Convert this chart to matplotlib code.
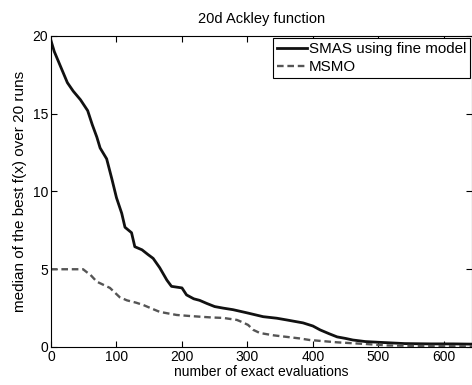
import numpy as np
import matplotlib.pyplot as plt

plt.rcParams['font.family'] = ['Liberation Sans', 'DejaVu Sans']

# median best f(x)
smas_x = [0, 5, 10, 18, 25, 34, 45, 56, 63, 70, 75, 85, 93, 100, 108, 113, 123, 128,
          139, 148, 156, 166, 177, 184, 200, 207, 218, 227, 238, 250, 263, 278, 299,
          324, 345, 360, 385, 400, 411, 425, 437, 450, 461, 480, 502, 540, 580, 614, 650]
smas_y = [19.7, 19.0, 18.5, 17.7, 17.0, 16.45, 15.9, 15.2, 14.3, 13.5, 12.8, 12.1, 10.8,
          9.6, 8.6, 7.7, 7.35, 6.45, 6.25, 5.95, 5.7, 5.1, 4.3, 3.9, 3.8, 3.35, 3.1, 3.0,
          2.8, 2.6, 2.5, 2.4, 2.2, 1.95, 1.85, 1.74, 1.55, 1.35, 1.1, 0.85, 0.65, 0.55,
          0.45, 0.35, 0.3, 0.22, 0.2, 0.2, 0.18]

msmo_x = [0, 49, 55, 60, 70, 80, 90, 105, 116, 130, 141, 155, 166, 180, 192, 210, 227,
          245, 263, 284, 292, 301, 309, 319, 340, 360, 380, 395, 437, 478, 514, 560, 650]
msmo_y = [5.0, 5.0, 4.8, 4.65, 4.2, 4.0, 3.8, 3.2, 3.0, 2.85, 2.7, 2.45, 2.26, 2.15, 2.06,
          2.0, 1.95, 1.9, 1.87, 1.74, 1.6, 1.42, 1.1, 0.9, 0.75, 0.65, 0.55, 0.45, 0.3,
          0.2, 0.1, 0.07, 0.05]

fig = plt.figure(figsize=(4.72, 3.85), dpi=100)
ax = fig.add_axes([51 / 472, 38 / 385, 421 / 472, 311 / 385])

ax.plot(smas_x, smas_y, color='#111111', lw=2.0, label='SMAS using fine model')
ax.plot(msmo_x, msmo_y, color='#555555', lw=1.7, ls=(0, (2.8, 1.6)), label='MSMO')

ax.set_xlim(0, 643)
ax.set_ylim(0, 20)
ax.set_xticks([0, 100, 200, 300, 400, 500, 600])
ax.set_yticks([0, 5, 10, 15, 20])
ax.tick_params(direction='in', top=True, right=True, labelsize=10, length=4, pad=2)

ax.set_title('20d Ackley function', fontsize=10.5, pad=9)
ax.set_xlabel('number of exact evaluations', fontsize=10, labelpad=1)
ax.set_ylabel('median of the best f(x) over 20 runs', fontsize=11, labelpad=4)

leg = ax.legend(loc='upper right', fontsize=10.9, frameon=True, fancybox=False,
                borderaxespad=0.15, handlelength=2.0, handletextpad=0.1,
                borderpad=0.25, labelspacing=0.25)
leg.get_frame().set_edgecolor('black')
leg.get_frame().set_linewidth(0.8)
leg.get_frame().set_alpha(1)

fig.savefig('out.png', dpi=100)
